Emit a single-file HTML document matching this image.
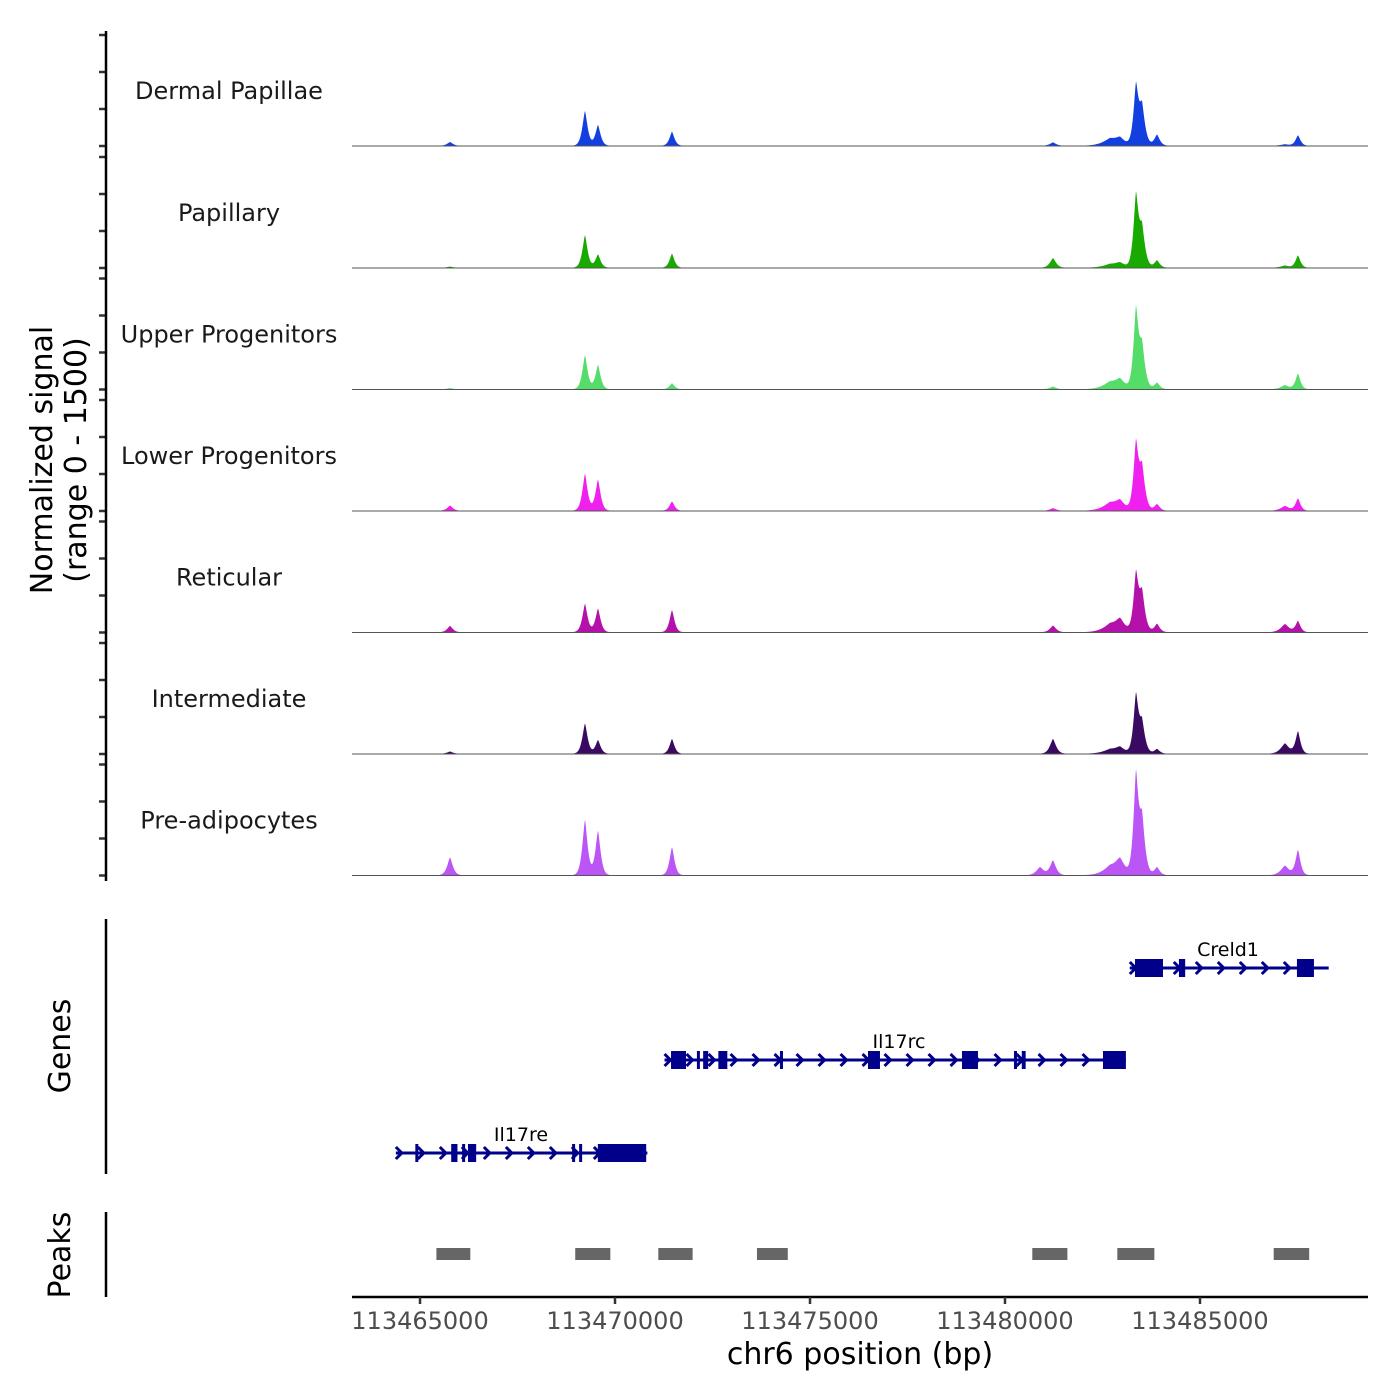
<!DOCTYPE html>
<html><head><meta charset="utf-8"><style>
html,body{margin:0;padding:0;background:#fff}
svg{display:block;font-family:"DejaVu Sans","Liberation Sans",sans-serif}
</style></head><body>
<svg id="chart" width="1400" height="1400" viewBox="0 0 1400 1400" xmlns="http://www.w3.org/2000/svg">
<g id="tracks"></g>
<g id="genes"></g>
<g id="peaks"></g>
<g id="axes"></g>
<text transform="translate(52,460) rotate(-90)" text-anchor="middle" font-size="30" fill="#000">Normalized signal</text>
<text transform="translate(86,460) rotate(-90)" text-anchor="middle" font-size="30" fill="#000">(range 0 - 1500)</text>
<text transform="translate(70,1046) rotate(-90)" text-anchor="middle" font-size="30" fill="#000">Genes</text>
<text transform="translate(70,1255) rotate(-90)" text-anchor="middle" font-size="30" fill="#000">Peaks</text>
<text x="860" y="1364" text-anchor="middle" font-size="30" fill="#000">chr6 position (bp)</text>
</svg>
<script>
// ---- data ----
const trackNames = ["Dermal Papillae","Papillary","Upper Progenitors","Lower Progenitors","Reticular","Intermediate","Pre-adipocytes"];
const trackColors = ["#1240e0","#18aa00","#55dd6a","#f020ee","#b411aa","#3a0a62","#bb55f6"];
const peakCenters = [113465769,113469230,113469563,113471461,113480897,113481230,113482692,113482948,113483358,113483512,113483897,113487179,113487512];
const peakWidths  = [100,95,95,90,130,110,260,170,90,110,100,150,90];
const sigDermal   = [50,470,280,190,0,45,90,90,760,520,150,20,140];
const sigPapillary= [15,440,180,190,0,130,45,60,930,520,100,30,165];
const sigUpper    = [15,460,330,80,0,35,90,120,1020,570,90,55,210];
const sigLower    = [70,500,420,125,0,35,100,120,860,570,90,65,165];
const sigReticular= [85,385,320,300,0,90,100,160,740,520,115,110,150];
const sigInterm   = [30,410,185,200,0,200,55,80,750,410,65,140,300];
const sigPreadipo = [240,750,600,380,110,200,110,200,1280,740,110,130,340];
const trackSignals = [sigDermal,sigPapillary,sigUpper,sigLower,sigReticular,sigInterm,sigPreadipo];
const yTicks = [0,500,1000,1500];
const xTicks = [113465000,113470000,113475000,113480000,113485000];
const xTickLabels = ["113465000","113470000","113475000","113480000","113485000"];
const peakStarts = [113465420,113468980,113471110,113473640,113480700,113482880,113486890];
const peakEnds   = [113466290,113469880,113471990,113474430,113481600,113483830,113487800];
const geneNames = ["Creld1","Il17rc","Il17re"];
const geneStarts = [113483200,113471270,113464380];
const geneEnds   = [113488300,113483100,113470830];
const geneRows = [0,1,2];
const geneExons = [
  [[113483333,113484051],[113484460,113484620],[113487486,113487922]],
  [[113471436,113471820],[113472100,113472150],[113472260,113472390],[113472650,113472880],[113474230,113474290],[113476487,113476794],[113478897,113479307],[113480230,113480290],[113480430,113480530],[113482513,113483100]],
  [[113464880,113464920],[113465800,113465960],[113466080,113466130],[113466230,113466440],[113468900,113468940],[113469080,113469130],[113469560,113470800]]
];
// ---- scales ----
const X0=352,X1=1368,BP0=113463256,BP1=113489308;
const xs = bp => X0+(bp-BP0)/(BP1-BP0)*(X1-X0);
const baselines=[146,268,389.5,511,632.5,754,875.5];
const ys = (v,b) => b - v/1500*111;
const NS="http://www.w3.org/2000/svg";
function mk(tag,attrs,parent){const e=document.createElementNS(NS,tag);for(const k in attrs)e.setAttribute(k,attrs[k]);parent.appendChild(e);return e;}
const tracks=document.getElementById('tracks'),axes=document.getElementById('axes');
// ---- coverage ----
trackNames.forEach((nm,t)=>{
  const b=baselines[t];
  const g=mk('g',{},tracks);
  
  
  let d='M'+X0+','+b;
  for(let px=X0;px<=X1;px+=0.5){
    const bp=BP0+(px-X0)/(X1-X0)*(BP1-BP0);
    let v=4;
    trackSignals[t].forEach((h,i)=>{const r=Math.abs(bp-peakCenters[i])/peakWidths[i];v+=h*Math.exp(-Math.pow(r,1.4));});
    d+=' L'+px+','+ys(Math.min(v,1500),b).toFixed(2);
  }
  d+=' L'+X1+','+b+' Z';
  const p=mk('path',{d:d,fill:trackColors[t]},g);
  
  
  const l=mk('line',{x1:X0,x2:X1,y1:b,y2:b,stroke:'#555','stroke-width':1},g);
  
  
  const lab=mk('text',{x:229,y:b-47,'text-anchor':'middle','font-size':24,fill:'#1a1a1a'},g);
  lab.textContent=nm;
  
  
  yTicks.forEach(v=>{
    const tk=mk('line',{x1:99,x2:106,y1:ys(v,b),y2:ys(v,b),stroke:'#333','stroke-width':2.5},axes);
    
    
  });
});
mk('line',{x1:106,x2:106,y1:31,y2:881,stroke:'#000','stroke-width':2.5},axes);
mk('line',{x1:106,x2:106,y1:919,y2:1174,stroke:'#000','stroke-width':2.5},axes);
mk('line',{x1:106,x2:106,y1:1212,y2:1297,stroke:'#000','stroke-width':2.5},axes);
mk('line',{x1:352,x2:1368,y1:1297,y2:1297,stroke:'#000','stroke-width':2.5},axes);
xTicks.forEach((bp,i)=>{
  const tk=mk('line',{x1:xs(bp),x2:xs(bp),y1:1297,y2:1304,stroke:'#333','stroke-width':2.5},axes);
  
  
  const tl=mk('text',{x:xs(bp),y:1329,'text-anchor':'middle','font-size':24,fill:'#4d4d4d'},axes);
  tl.textContent=xTickLabels[i];
  
  
});
// ---- genes ----
const genes=document.getElementById('genes');
const rowY=[968,1060,1153];
const labelX=[1228,899,521];
geneNames.forEach((nm,i)=>{
  const y=rowY[geneRows[i]],x0=xs(geneStarts[i]),x1=xs(geneEnds[i]);
  const g=mk('g',{},genes);
  
  
  mk('line',{x1:x0,x2:x1,y1:y,y2:y,stroke:'#00008b','stroke-width':3},g);
  for(let x=x0+4;x<x1;x+=22){
    mk('path',{d:`M${x-4},${y-6} L${x+2},${y} L${x-4},${y+6}`,fill:'none',stroke:'#00008b','stroke-width':3},g);
  }
  geneExons[i].forEach(e=>{
    const ex=mk('rect',{x:xs(e[0]),y:y-9,width:Math.max(3,xs(e[1])-xs(e[0])),height:18,fill:'#00008b'},g);
    
    
  });
  const t=mk('text',{x:labelX[i],y:y-12,'text-anchor':'middle','font-size':19,fill:'#000'},g);
  t.textContent=nm;
  
  
});
// ---- peaks ----
const peaks=document.getElementById('peaks');
peakStarts.forEach((s,i)=>{
  const r=mk('rect',{x:xs(s),y:1248,width:xs(peakEnds[i])-xs(s),height:12,fill:'#666'},peaks);
  
  
});
</script>
</body></html>
